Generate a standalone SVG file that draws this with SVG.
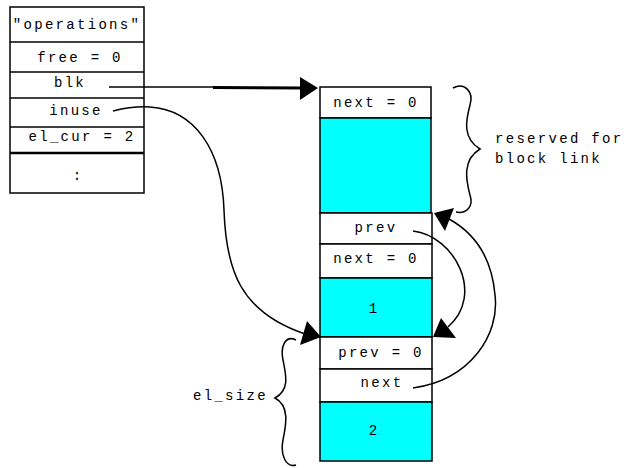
<svg xmlns="http://www.w3.org/2000/svg" width="627" height="468" viewBox="0 0 627 468">
  <style>
    .cell { fill: #ffffff; stroke: #000000; stroke-width: 1.5; }
    .data { fill: #00ffff; stroke: #000000; stroke-width: 1.5; }
    .txt { font-family: "Liberation Mono", "Courier New", monospace; font-size: 14px; letter-spacing: 2.3px; fill: #000000; }
    .mid { text-anchor: middle; }
    .wire { fill: none; stroke: #000000; stroke-width: 1.5; }
    .head { fill: #000000; stroke: none; }
  </style>

  <!-- descriptor record -->
  <g id="operations">
    <rect class="cell" x="10" y="7" width="134" height="186"/>
    <line class="wire" x1="10" y1="42" x2="144" y2="42"/>
    <line class="wire" x1="10" y1="72" x2="144" y2="72"/>
    <line class="wire" x1="10" y1="98" x2="144" y2="98"/>
    <line class="wire" x1="10" y1="127" x2="144" y2="127"/>
    <line x1="10" y1="153" x2="144" y2="153" stroke="#000" stroke-width="2.5"/>
    <text class="txt mid" x="77" y="29">"operations"</text>
    <text class="txt mid" x="80" y="62">free = 0</text>
    <text class="txt mid" x="70" y="87">blk</text>
    <text class="txt mid" x="76" y="115">inuse</text>
    <text class="txt mid" x="82" y="141">el_cur = 2</text>
    <text class="txt mid" x="78" y="180">:</text>
  </g>

  <!-- block header -->
  <g id="block-header">
    <rect class="cell" x="320" y="87" width="111" height="31"/>
    <rect class="data" x="320" y="118" width="111" height="95"/>
    <text class="txt mid" x="376" y="107">next = 0</text>
  </g>

  <!-- element 1 -->
  <g id="element-1">
    <rect class="cell" x="320" y="213" width="112" height="31"/>
    <rect class="cell" x="320" y="244" width="112" height="34"/>
    <rect class="data" x="320" y="278" width="112" height="59"/>
    <text class="txt mid" x="376" y="232">prev</text>
    <text class="txt mid" x="376" y="263">next = 0</text>
    <text class="txt mid" x="374" y="313">1</text>
  </g>

  <!-- element 2 -->
  <g id="element-2">
    <rect class="cell" x="320" y="337" width="112" height="32"/>
    <rect class="cell" x="320" y="369" width="112" height="33"/>
    <rect class="data" x="320" y="402" width="112" height="59"/>
    <text class="txt mid" x="381" y="357">prev = 0</text>
    <text class="txt mid" x="382" y="387">next</text>
    <text class="txt mid" x="374" y="435">2</text>
  </g>

  <!-- braces and their labels -->
  <g id="reserved-brace">
    <path class="wire" d="M453,88 C465,82 474,92 470,105 C466,120 462,138 480,149 C462,160 466,180 470,195 C474,207 466,214 456,212"/>
    <text class="txt" x="495" y="143">reserved for</text>
    <text class="txt" x="495" y="163">block link</text>
  </g>
  <g id="el-size-brace">
    <path class="wire" d="M296,340 C286,335 280,345 283,360 C286,375 290,390 275,398 C290,406 286,425 283,440 C280,455 286,468 296,465"/>
    <text class="txt" x="193" y="400">el_size</text>
  </g>

  <!-- pointers -->
  <g id="connectors">
    <!-- blk -> block header -->
    <line class="wire" x1="109" y1="87" x2="214" y2="87"/>
    <line x1="213" y1="87.5" x2="302" y2="88" stroke="#000" stroke-width="3"/>
    <polygon class="head" points="318,88 300,77 300,100"/>

    <!-- inuse -> element 2 -->
    <path class="wire" d="M113,111 C125,108 135,106 150,107 C195,110 222,150 224,210 C226,270 240,312 305,334"/>
    <polygon class="head" points="321,337 307,321 300,345"/>

    <!-- element 1 prev -> element 2 -->
    <path class="wire" d="M413,231 C455,236 485,295 448,327"/>
    <polygon class="head" points="433,337 441,318 456,338"/>

    <!-- element 2 next -> element 1 -->
    <path class="wire" d="M413,388 C470,380 500,335 495,295 C492,260 478,235 449,219"/>
    <polygon class="head" points="434,213 454,208 445,231"/>
  </g>
</svg>
